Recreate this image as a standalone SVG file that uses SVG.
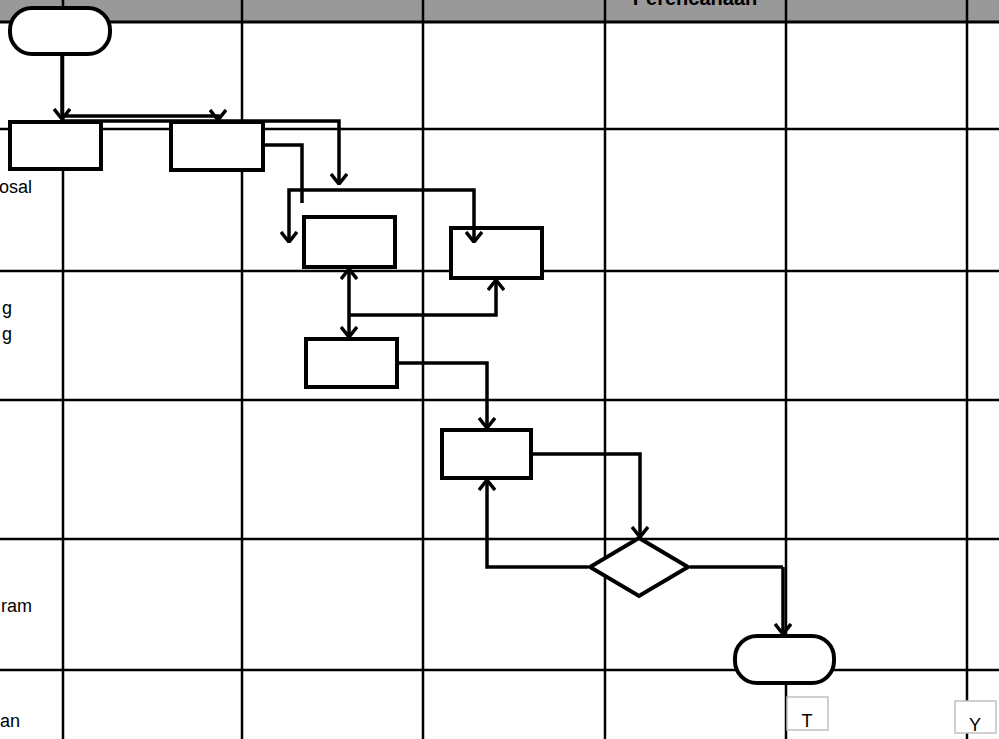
<svg xmlns="http://www.w3.org/2000/svg" width="999" height="739" viewBox="0 0 999 739">
<style>
.grid{stroke:#000;stroke-width:2.5;fill:none}
.node{fill:#fff;stroke:#000;stroke-width:4}
.conn{fill:none;stroke:#000;stroke-width:3.5;stroke-linejoin:miter}
.lbl{font-family:"Liberation Sans",Arial,sans-serif;font-size:18px;fill:#000}
.tag{fill:#fff;stroke:#c0c0c0;stroke-width:1.5}
</style>
<defs>
<marker id="arr" viewBox="0 0 12 18" refX="11" refY="9" markerWidth="12" markerHeight="18" markerUnits="userSpaceOnUse" orient="auto-start-reverse">
<path d="M1,1 L11,9 L1,17" fill="none" stroke="#000" stroke-width="3.5"/>
</marker>
</defs>
<rect x="0" y="0" width="999" height="22" fill="#999999"/>
<g id="grid" class="grid">
<line x1="0" y1="22" x2="999" y2="22" stroke-width="3"/>
<line x1="0" y1="129" x2="999" y2="129"/>
<line x1="0" y1="271" x2="999" y2="271"/>
<line x1="0" y1="400" x2="999" y2="400"/>
<line x1="0" y1="539" x2="999" y2="539"/>
<line x1="0" y1="670" x2="999" y2="670"/>
<line x1="63" y1="0" x2="63" y2="739"/>
<line x1="242" y1="0" x2="242" y2="739"/>
<line x1="423" y1="0" x2="423" y2="739"/>
<line x1="605" y1="0" x2="605" y2="739"/>
<line x1="786" y1="0" x2="786" y2="739"/>
<line x1="967" y1="0" x2="967" y2="739"/>
</g>
<g id="labels" class="lbl">
<text x="695" y="5" text-anchor="middle" font-weight="bold" font-size="20">Perencanaan</text>
<text x="32" y="193" text-anchor="end">osal</text>
<text x="12" y="314" text-anchor="end">g</text>
<text x="12" y="340" text-anchor="end">g</text>
<text x="32" y="612" text-anchor="end">ram</text>
<text x="20" y="727" text-anchor="end">an</text>
</g>
<g id="start"><rect class="node" x="10" y="8" width="100" height="46" rx="22" ry="22"/></g>
<g id="box1"><rect class="node" x="10" y="122" width="91" height="47"/></g>
<g id="box2"><rect class="node" x="171" y="122" width="92" height="48"/></g>
<g id="box3"><rect class="node" x="304" y="217" width="91" height="50"/></g>
<g id="box4"><rect class="node" x="451" y="228" width="91" height="50"/></g>
<g id="box5"><rect class="node" x="306" y="339" width="91" height="48"/></g>
<g id="box6"><rect class="node" x="442" y="430" width="89" height="48"/></g>
<g id="decision"><polygon class="node" points="639,538 688,567 639,596 590,567"/></g>
<g id="end"><rect class="node" x="735" y="636" width="99" height="47" rx="22" ry="22"/></g>
<g id="tagT"><rect class="tag" x="787" y="697" width="41" height="33"/><text class="lbl" x="807" y="727" text-anchor="middle" font-size="17">T</text></g>
<g id="tagY"><rect class="tag" x="955" y="701" width="41" height="32"/><text class="lbl" x="975" y="731" text-anchor="middle" font-size="17">Y</text></g>
<g id="connectors">
<path class="conn" d="M62,56 V119" marker-end="url(#arr)"/>
<path class="conn" d="M62,116 H218 V120" stroke-width="2.5" marker-end="url(#arr)"/>
<path class="conn" d="M62,121 H339 V184" marker-end="url(#arr)"/>
<path class="conn" d="M265,145 H302 V203"/>
<path class="conn" d="M289,242 V190 H474 V242" marker-start="url(#arr)" marker-end="url(#arr)"/>
<path class="conn" d="M349,269 V337" marker-start="url(#arr)" marker-end="url(#arr)"/>
<path class="conn" d="M349,315 H496 V280" marker-end="url(#arr)"/>
<path class="conn" d="M399,363 H487 V428" marker-end="url(#arr)"/>
<path class="conn" d="M533,454 H640 V537" marker-end="url(#arr)"/>
<path class="conn" d="M588,567 H487 V480" marker-end="url(#arr)"/>
<path class="conn" d="M690,567 H783"/>
<path class="conn" d="M783,567 V634" stroke-width="5" marker-end="url(#arr)"/>
</g>
</svg>
